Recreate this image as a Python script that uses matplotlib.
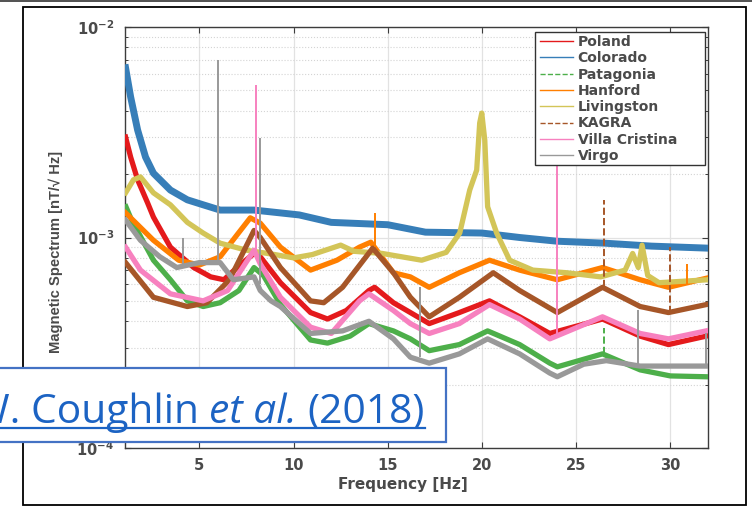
import matplotlib
matplotlib.use("Agg")
import matplotlib.pyplot as plt
import matplotlib.patches as mpatches
from matplotlib.lines import Line2D
from matplotlib.ticker import LogLocator, NullFormatter, FixedLocator

# ---------------------------------------------------------------------------
# Data (values in nT/sqrt(Hz))
# ---------------------------------------------------------------------------

poland_f = [1.08, 1.35, 1.72, 2.25, 2.56, 3.46, 4.7, 5.6, 6.3, 7.0, 7.9, 8.23, 9.3,
            10.9, 11.8, 12.8, 14.0, 14.3, 15.3, 16.2, 17.2, 18.8, 20.4, 22.0, 23.6,
            26.4, 28.4, 29.9, 31.9]
poland_v = [3.0e-3, 2.41e-3, 1.88e-3, 1.46e-3, 1.25e-3, 0.90e-3, 0.72e-3, 0.65e-3, 0.63e-3,
            0.72e-3, 0.84e-3, 0.81e-3, 0.61e-3, 0.44e-3, 0.41e-3, 0.45e-3, 0.56e-3, 0.58e-3,
            0.49e-3, 0.44e-3, 0.39e-3, 0.44e-3, 0.50e-3, 0.42e-3, 0.35e-3, 0.41e-3, 0.34e-3,
            0.31e-3, 0.34e-3]

colorado_f = [1.08, 1.35, 1.72, 2.14, 2.56, 3.46, 4.36, 5.2, 6.1, 7.9, 10.3, 12.0, 14.0,
              15.0, 17.0, 20.0, 22.0, 24.0, 26.5, 29.0, 32.0]
colorado_v = [6.4e-3, 4.65e-3, 3.24e-3, 2.41e-3, 2.02e-3, 1.68e-3, 1.51e-3, 1.43e-3, 1.35e-3,
              1.35e-3, 1.28e-3, 1.18e-3, 1.16e-3, 1.15e-3, 1.06e-3, 1.05e-3, 1.0e-3, 0.96e-3,
              0.94e-3, 0.91e-3, 0.89e-3]

patagonia_f = [1.1, 1.4, 2.56, 3.46, 4.36, 5.2, 6.1, 7.1, 7.9, 8.4, 9.3, 10.9, 11.8, 13.0,
               14.0, 15.3, 16.2, 17.2, 18.8, 20.3, 22.0, 23.6, 24.0, 26.4, 28.4, 30.0, 31.9]
patagonia_v = [1.40e-3, 1.21e-3, 0.78e-3, 0.63e-3, 0.50e-3, 0.47e-3, 0.49e-3, 0.56e-3, 0.72e-3,
               0.66e-3, 0.48e-3, 0.326e-3, 0.315e-3, 0.34e-3, 0.39e-3, 0.36e-3, 0.33e-3,
               0.29e-3, 0.31e-3, 0.36e-3, 0.31e-3, 0.253e-3, 0.243e-3, 0.28e-3, 0.235e-3,
               0.22e-3, 0.218e-3]

hanford_f = [1.08, 2.56, 3.9, 5.0, 6.1, 7.0, 7.7, 8.23, 9.3, 10.9, 12.3, 13.5, 14.1, 15.3,
             16.2, 17.2, 18.8, 20.4, 22.0, 24.0, 26.4, 28.4, 29.9, 31.9]
hanford_v = [1.31e-3, 0.97e-3, 0.78e-3, 0.74e-3, 0.81e-3, 1.03e-3, 1.24e-3, 1.17e-3, 0.90e-3,
             0.70e-3, 0.78e-3, 0.90e-3, 0.95e-3, 0.68e-3, 0.65e-3, 0.58e-3, 0.68e-3, 0.78e-3,
             0.70e-3, 0.63e-3, 0.72e-3, 0.63e-3, 0.58e-3, 0.64e-3]

livingston_f = [1.08, 1.5, 1.87, 2.56, 3.46, 4.36, 5.2, 6.1, 7.5, 9.0, 10.0, 11.0, 12.5,
                13.2, 14.7, 16.8, 18.1, 18.82, 19.35, 19.72, 19.88, 19.99, 20.15, 20.3,
                20.78, 21.47, 22.7, 24.5, 26.3, 27.6, 28.0, 28.3, 28.5, 28.8, 29.4, 32.0]
livingston_v = [1.63e-3, 1.88e-3, 1.94e-3, 1.63e-3, 1.43e-3, 1.18e-3, 1.05e-3, 0.94e-3,
                0.87e-3, 0.83e-3, 0.80e-3, 0.83e-3, 0.92e-3, 0.86e-3, 0.84e-3, 0.78e-3,
                0.85e-3, 1.05e-3, 1.68e-3, 2.09e-3, 3.5e-3, 3.9e-3, 2.9e-3, 1.40e-3,
                1.05e-3, 0.78e-3, 0.70e-3, 0.68e-3, 0.65e-3, 0.70e-3, 0.84e-3, 0.72e-3,
                0.92e-3, 0.66e-3, 0.61e-3, 0.63e-3]

kagra_f = [1.08, 2.56, 4.36, 5.4, 6.6, 7.9, 8.23, 9.3, 10.9, 11.6, 12.6, 14.2, 15.3, 16.2,
           17.2, 18.8, 20.6, 22.0, 24.0, 26.4, 28.4, 29.9, 31.9]
kagra_v = [0.76e-3, 0.52e-3, 0.47e-3, 0.49e-3, 0.63e-3, 1.08e-3, 1.0e-3, 0.72e-3, 0.50e-3,
           0.49e-3, 0.58e-3, 0.89e-3, 0.68e-3, 0.52e-3, 0.42e-3, 0.52e-3, 0.68e-3, 0.56e-3,
           0.44e-3, 0.58e-3, 0.47e-3, 0.44e-3, 0.48e-3]

villa_f = [1.08, 1.87, 3.46, 5.2, 6.5, 7.9, 8.23, 9.3, 10.9, 12.0, 13.5, 14.0, 15.3, 16.2,
           17.2, 18.8, 20.4, 22.0, 23.6, 26.4, 28.4, 29.9, 31.9]
villa_v = [0.90e-3, 0.70e-3, 0.54e-3, 0.50e-3, 0.56e-3, 0.87e-3, 0.75e-3, 0.52e-3, 0.375e-3,
           0.35e-3, 0.50e-3, 0.54e-3, 0.45e-3, 0.39e-3, 0.35e-3, 0.39e-3, 0.48e-3, 0.41e-3,
           0.33e-3, 0.42e-3, 0.35e-3, 0.33e-3, 0.36e-3]

virgo_f = [1.08, 1.87, 2.9, 3.8, 5.0, 6.1, 6.8, 7.9, 8.23, 8.8, 9.3, 10.9, 12.6, 14.0, 15.3,
           16.2, 17.2, 18.8, 20.3, 22.0, 23.6, 24.0, 25.4, 26.6, 28.4, 31.9]
virgo_v = [1.21e-3, 0.97e-3, 0.81e-3, 0.72e-3, 0.76e-3, 0.76e-3, 0.63e-3, 0.65e-3, 0.56e-3,
           0.50e-3, 0.47e-3, 0.35e-3, 0.36e-3, 0.40e-3, 0.33e-3, 0.27e-3, 0.253e-3, 0.28e-3,
           0.33e-3, 0.28e-3, 0.227e-3, 0.218e-3, 0.25e-3, 0.26e-3, 0.245e-3, 0.245e-3]

# narrow line features (spectral lines) per site
spike_site = ["Virgo", "Virgo", "Virgo", "Villa Cristina", "Hanford", "Virgo",
              "Villa Cristina", "Patagonia", "KAGRA", "Virgo", "KAGRA", "Hanford", "Virgo"]
spike_f = [4.15, 6.0, 8.2, 8.0, 14.3, 16.7, 24.0, 26.5, 26.5, 28.3, 30.0, 30.9, 31.9]
spike_lo = [0.72e-3, 0.76e-3, 0.60e-3, 0.85e-3, 0.90e-3, 0.27e-3, 0.34e-3, 0.28e-3,
            0.58e-3, 0.245e-3, 0.44e-3, 0.60e-3, 0.245e-3]
spike_hi = [1.0e-3, 7.0e-3, 2.97e-3, 5.3e-3, 1.31e-3, 0.58e-3, 2.3e-3, 0.37e-3,
            1.5e-3, 0.45e-3, 0.9e-3, 0.75e-3, 0.35e-3]

sites = ["Poland", "Colorado", "Patagonia", "Hanford", "Livingston", "KAGRA",
         "Villa Cristina", "Virgo"]
freqs = [poland_f, colorado_f, patagonia_f, hanford_f, livingston_f, kagra_f, villa_f, virgo_f]
spectra = [poland_v, colorado_v, patagonia_v, hanford_v, livingston_v, kagra_v, villa_v, virgo_v]

# ---------------------------------------------------------------------------
# Style
# ---------------------------------------------------------------------------
COLORS = {
    "Poland": "#e41a1c", "Colorado": "#377eb8", "Patagonia": "#4daf4a",
    "Hanford": "#ff7f00", "Livingston": "#d3c558", "KAGRA": "#a65628",
    "Villa Cristina": "#f781bf", "Virgo": "#999999",
}
STYLES = {"Patagonia": "--", "KAGRA": "--"}
TXT = "#4a4a4a"
FONT = "DejaVu Sans"       # wide face: the source image is stretched sideways
LINK = "#1c63c3"

W, H = 752, 513
fig = plt.figure(figsize=(W / 100, H / 100), dpi=100)
fig.patch.set_facecolor("white")


def fx(px):
    return px / W


def fy(py):
    return 1 - py / H


ax = fig.add_axes([fx(125), fy(448), fx(708) - fx(125), fy(27) - fy(448)])

for site, f, v in zip(sites, freqs, spectra):
    lw = 5.0 if site == "Colorado" else 3.8
    ax.plot(f, v, color=COLORS[site], lw=lw, solid_joinstyle="round", zorder=3)

for site, f, lo, hi in zip(spike_site, spike_f, spike_lo, spike_hi):
    ax.vlines(f, lo, hi, color=COLORS[site], lw=1.4,
              linestyles=STYLES.get(site, "-"), zorder=3)

ax.set_yscale("log")
ax.set_xlim(1.05, 32)
ax.set_ylim(1e-4, 1e-2)
ax.xaxis.set_major_locator(FixedLocator([5, 10, 15, 20, 25, 30]))
ax.yaxis.set_major_locator(LogLocator(base=10, numticks=5))
ax.yaxis.set_minor_locator(LogLocator(base=10, subs=range(2, 10), numticks=20))
ax.yaxis.set_minor_formatter(NullFormatter())

ax.set_axisbelow(True)
ax.grid(True, which="major", axis="both", color="#e2e2e2", lw=0.9)
ax.grid(True, which="minor", axis="y", color="#d4d4d4", lw=0.8, ls=":")

for sp in ax.spines.values():
    sp.set_color("#3c3c3c")
    sp.set_linewidth(1.0)
ax.tick_params(which="both", direction="in", top=True, right=True, colors="#3c3c3c",
               labelcolor=TXT, labelsize=10.5)
ax.tick_params(which="major", length=4, width=0.8)
ax.tick_params(which="minor", length=2.5, width=0.7)
ax.tick_params(axis="x", pad=7)
ax.tick_params(axis="y", pad=8)
for lab in ax.get_xticklabels() + ax.get_yticklabels():
    lab.set_fontfamily(FONT)
    lab.set_fontweight("bold")

fig.text(fx(56), fy(252), "Magnetic Spectrum [nT/\u221a Hz]", rotation=90,
         ha="center", va="center", color=TXT, fontsize=10.6, fontweight="bold",
         family="Liberation Sans")
fig.text(fx(403), fy(484), "Frequency [Hz]", ha="center", va="center",
         color=TXT, fontsize=11, fontweight="bold", family=FONT)

# legend: MATLAB-style box with wide right margin, drawn as its own patch
ax.add_patch(mpatches.Rectangle((fx(535), fy(165)), fx(705) - fx(535), fy(32) - fy(165),
                                transform=fig.transFigure, facecolor="white",
                                edgecolor="#333333", lw=1.0, clip_on=False, zorder=4.5))
handles = [Line2D([], [], color=COLORS[s], lw=1.0, ls=STYLES.get(s, "-")) for s in sites]
leg = ax.legend(handles, sites, loc="upper left", bbox_to_anchor=(fx(540), fy(35)),
                bbox_transform=fig.transFigure, borderaxespad=0, frameon=False,
                handlelength=2.4, handletextpad=0.3, labelspacing=0.165, borderpad=0,
                prop={"family": FONT, "weight": "bold", "size": 10})
for t in leg.get_texts():
    t.set_color(TXT)
leg.set_zorder(5)

# ---- slide decorations: image frame, top rule, citation box ----
fig.add_artist(mpatches.Rectangle((fx(23), fy(505)), fx(746) - fx(23), fy(7) - fy(505),
                                  transform=fig.transFigure, fill=False,
                                  edgecolor="black", lw=1.3, zorder=6))
fig.add_artist(mpatches.Rectangle((0, fy(2)), 1, fy(0) - fy(2), transform=fig.transFigure,
                                  facecolor="#555555", edgecolor="none", zorder=6))
fig.add_artist(mpatches.Rectangle((-0.02, fy(442)), fx(446) + 0.02, fy(368) - fy(442),
                                  transform=fig.transFigure, facecolor="white",
                                  edgecolor="#4472c4", lw=1.6, zorder=7))

fig.canvas.draw()
rend = fig.canvas.get_renderer()
base_y = fy(423)
cite_size = 29.3
x_right = 425
pieces = [("W. Coughlin", "normal"), ("et al.", "italic"), ("(2018)", "normal")]
gap = None
for txt, style in reversed(pieces):
    t = fig.text(fx(x_right), base_y, txt, ha="right", va="baseline", color=LINK,
                 fontsize=cite_size, fontstyle=style, family="Open Sans", zorder=8)
    bb = t.get_window_extent(rend)
    if gap is None:
        sp = fig.text(0, 0, "a a", fontsize=cite_size, family="Open Sans")
        sa = fig.text(0, 0, "aa", fontsize=cite_size, family="Open Sans")
        gap = sp.get_window_extent(rend).width - sa.get_window_extent(rend).width
        sp.remove()
        sa.remove()
    x_right = bb.x0 - gap

fig.add_artist(Line2D([0, fx(425)], [fy(428), fy(428)], transform=fig.transFigure,
                      color=LINK, lw=1.6, zorder=8))

fig.savefig("out.png", dpi=100, facecolor="white")
